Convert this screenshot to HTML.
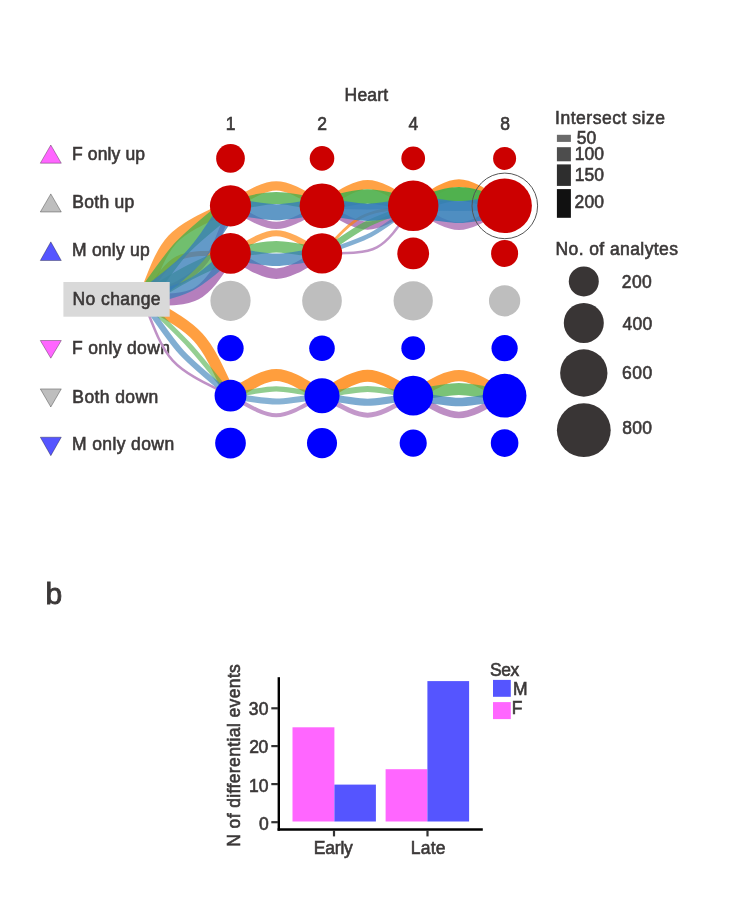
<!DOCTYPE html><html><head><meta charset="utf-8"><style>html,body{margin:0;padding:0;background:#fff;}svg{display:block;will-change:transform;}text{font-family:"Liberation Sans",sans-serif;}</style></head><body>
<svg width="746" height="900" viewBox="0 0 746 900">
<rect width="746" height="900" fill="#fff"/>
<polygon points="50.8,145 61.3,163.2 40.3,163.2" fill="#ff66ff" stroke="#000" stroke-opacity="0.45" stroke-width="0.7"/>
<polygon points="50.8,193.9 61.3,212 40.3,212" fill="#bebebe" stroke="#000" stroke-opacity="0.45" stroke-width="0.7"/>
<polygon points="50.8,241.85 61.3,260.5 40.3,260.5" fill="#5555ff" stroke="#000" stroke-opacity="0.45" stroke-width="0.7"/>
<polygon points="40.3,340.5 61.3,340.5 50.8,358.2" fill="#ff66ff" stroke="#000" stroke-opacity="0.45" stroke-width="0.7"/>
<polygon points="40.3,388.9 61.3,388.9 50.8,407" fill="#bebebe" stroke="#000" stroke-opacity="0.45" stroke-width="0.7"/>
<polygon points="40.3,437.2 61.3,437.2 50.8,455.7" fill="#5555ff" stroke="#000" stroke-opacity="0.45" stroke-width="0.7"/>
<text x="71.97" y="160.2" font-size="17.5" letter-spacing="0.134" fill="#3b3838" stroke="#3b3838" stroke-width="0.6">F only up</text>
<text x="72.27" y="208.2" font-size="17.5" letter-spacing="0.283" fill="#3b3838" stroke="#3b3838" stroke-width="0.6">Both up</text>
<text x="71.97" y="256.2" font-size="17.5" letter-spacing="0.236" fill="#3b3838" stroke="#3b3838" stroke-width="0.6">M only up</text>
<text x="71.97" y="354.0" font-size="17.5" letter-spacing="0.36" fill="#3b3838" stroke="#3b3838" stroke-width="0.6">F only down</text>
<text x="72.37" y="402.7" font-size="17.5" letter-spacing="0.402" fill="#3b3838" stroke="#3b3838" stroke-width="0.6">Both down</text>
<text x="71.97" y="450.0" font-size="17.5" letter-spacing="0.391" fill="#3b3838" stroke="#3b3838" stroke-width="0.6">M only down</text>
<g fill="none">
<path d="M143.0,300.0C167.6,235.1 167.6,235.1 230.5,205.8" stroke="#fff" stroke-width="11" stroke-opacity="1.00"/>
<path d="M143.0,300.0C179.9,246.5 179.9,246.5 230.5,205.8" stroke="#fff" stroke-width="17" stroke-opacity="1.00"/>
<path d="M143.0,300.0C194.6,260.2 194.6,260.2 230.5,205.8" stroke="#fff" stroke-width="19" stroke-opacity="1.00"/>
<path d="M143.0,300.0C206.1,270.9 206.1,270.9 230.5,205.8" stroke="#fff" stroke-width="5" stroke-opacity="1.00"/>
<path d="M143.0,300.0C174.0,252.8 174.0,252.8 230.5,253.4" stroke="#fff" stroke-width="5" stroke-opacity="1.00"/>
<path d="M143.0,300.0C185.2,273.8 185.2,273.8 230.5,253.4" stroke="#fff" stroke-width="15" stroke-opacity="1.00"/>
<path d="M143.0,300.0C192.4,287.3 192.4,287.3 230.5,253.4" stroke="#fff" stroke-width="12" stroke-opacity="1.00"/>
<path d="M143.0,300.0C199.0,299.6 199.0,299.6 230.5,253.4" stroke="#fff" stroke-width="12" stroke-opacity="1.00"/>
<path d="M143.0,300.0C202.0,333.9 202.0,333.9 230.5,395.7" stroke="#fff" stroke-width="11.5" stroke-opacity="1.00"/>
<path d="M143.0,300.0C190.2,344.7 190.2,344.7 230.5,395.7" stroke="#fff" stroke-width="5" stroke-opacity="1.00"/>
<path d="M143.0,300.0C179.9,354.1 179.9,354.1 230.5,395.7" stroke="#fff" stroke-width="6" stroke-opacity="1.00"/>
<path d="M143.0,300.0C168.1,364.9 168.1,364.9 230.5,395.7" stroke="#fff" stroke-width="2.5" stroke-opacity="1.00"/>
<path d="M230.5,205.8C276.2,179.1 276.2,179.1 322.0,205.8" stroke="#fff" stroke-width="9.3" stroke-opacity="1.00"/>
<path d="M230.5,205.8C276.2,195.4 276.2,195.4 322.0,205.8" stroke="#fff" stroke-width="12" stroke-opacity="1.00"/>
<path d="M230.5,205.8C276.2,214.3 276.2,214.3 322.0,205.8" stroke="#fff" stroke-width="16" stroke-opacity="1.00"/>
<path d="M230.5,205.8C276.2,231.9 276.2,231.9 322.0,205.8" stroke="#fff" stroke-width="7.2" stroke-opacity="1.00"/>
<path d="M322.0,205.8C367.6,177.5 367.6,177.5 413.2,205.8" stroke="#fff" stroke-width="9.3" stroke-opacity="1.00"/>
<path d="M322.0,205.8C367.6,193.3 367.6,193.3 413.2,205.8" stroke="#fff" stroke-width="14.4" stroke-opacity="1.00"/>
<path d="M322.0,205.8C367.6,214.5 367.6,214.5 413.2,205.8" stroke="#fff" stroke-width="17.3" stroke-opacity="1.00"/>
<path d="M322.0,205.8C367.6,232.3 367.6,232.3 413.2,205.8" stroke="#fff" stroke-width="8" stroke-opacity="1.00"/>
<path d="M413.2,205.8C458.9,175.5 458.9,175.5 504.6,205.8" stroke="#fff" stroke-width="7.7" stroke-opacity="1.00"/>
<path d="M413.2,205.8C458.9,190.1 458.9,190.1 504.6,205.8" stroke="#fff" stroke-width="14" stroke-opacity="1.00"/>
<path d="M413.2,205.8C458.9,214.2 458.9,214.2 504.6,205.8" stroke="#fff" stroke-width="22" stroke-opacity="1.00"/>
<path d="M413.2,205.8C458.9,233.0 458.9,233.0 504.6,205.8" stroke="#fff" stroke-width="7.6" stroke-opacity="1.00"/>
<path d="M230.5,253.4C276.2,226.5 276.2,226.5 322.0,253.4" stroke="#fff" stroke-width="6.1" stroke-opacity="1.00"/>
<path d="M230.5,253.4C276.2,244.5 276.2,244.5 322.0,253.4" stroke="#fff" stroke-width="11.3" stroke-opacity="1.00"/>
<path d="M230.5,253.4C276.2,261.9 276.2,261.9 322.0,253.4" stroke="#fff" stroke-width="12.4" stroke-opacity="1.00"/>
<path d="M230.5,253.4C276.2,280.4 276.2,280.4 322.0,253.4" stroke="#fff" stroke-width="10.5" stroke-opacity="1.00"/>
<path d="M322.0,253.4C359.0,213.1 359.0,213.1 413.2,205.8" stroke="#fff" stroke-width="3" stroke-opacity="1.00"/>
<path d="M322.0,253.4C364.4,223.5 364.4,223.5 413.2,205.8" stroke="#fff" stroke-width="6.5" stroke-opacity="1.00"/>
<path d="M322.0,253.4C371.4,236.9 371.4,236.9 413.2,205.8" stroke="#fff" stroke-width="4.5" stroke-opacity="1.00"/>
<path d="M322.0,253.4C379.9,253.2 379.9,253.2 413.2,205.8" stroke="#fff" stroke-width="2.5" stroke-opacity="1.00"/>
<path d="M230.5,395.7C276.2,368.1 276.2,368.1 322.0,395.7" stroke="#fff" stroke-width="12.1" stroke-opacity="1.00"/>
<path d="M230.5,395.7C276.2,386.6 276.2,386.6 322.0,395.7" stroke="#fff" stroke-width="5.2" stroke-opacity="1.00"/>
<path d="M230.5,395.7C276.2,403.4 276.2,403.4 322.0,395.7" stroke="#fff" stroke-width="6.2" stroke-opacity="1.00"/>
<path d="M230.5,395.7C276.2,421.8 276.2,421.8 322.0,395.7" stroke="#fff" stroke-width="4" stroke-opacity="1.00"/>
<path d="M322.0,395.7C367.6,369.0 367.6,369.0 413.2,395.7" stroke="#fff" stroke-width="12" stroke-opacity="1.00"/>
<path d="M322.0,395.7C367.6,386.8 367.6,386.8 413.2,395.7" stroke="#fff" stroke-width="6" stroke-opacity="1.00"/>
<path d="M322.0,395.7C367.6,404.4 367.6,404.4 413.2,395.7" stroke="#fff" stroke-width="7" stroke-opacity="1.00"/>
<path d="M322.0,395.7C367.6,421.7 367.6,421.7 413.2,395.7" stroke="#fff" stroke-width="5" stroke-opacity="1.00"/>
<path d="M413.2,395.7C458.9,369.0 458.9,369.0 504.6,395.7" stroke="#fff" stroke-width="11.3" stroke-opacity="1.00"/>
<path d="M413.2,395.7C458.9,386.8 458.9,386.8 504.6,395.7" stroke="#fff" stroke-width="12" stroke-opacity="1.00"/>
<path d="M413.2,395.7C458.9,404.1 458.9,404.1 504.6,395.7" stroke="#fff" stroke-width="8.7" stroke-opacity="1.00"/>
<path d="M413.2,395.7C458.9,421.4 458.9,421.4 504.6,395.7" stroke="#fff" stroke-width="6.7" stroke-opacity="1.00"/>
<path d="M143.0,300.0C206.1,270.9 206.1,270.9 230.5,205.8" stroke="#984ea3" stroke-width="5" stroke-opacity="0.70"/>
<path d="M143.0,300.0C199.0,299.6 199.0,299.6 230.5,253.4" stroke="#984ea3" stroke-width="12" stroke-opacity="0.72"/>
<path d="M143.0,300.0C168.1,364.9 168.1,364.9 230.5,395.7" stroke="#984ea3" stroke-width="2.5" stroke-opacity="0.62"/>
<path d="M230.5,205.8C276.2,231.9 276.2,231.9 322.0,205.8" stroke="#984ea3" stroke-width="7.2" stroke-opacity="0.67"/>
<path d="M322.0,205.8C367.6,232.3 367.6,232.3 413.2,205.8" stroke="#984ea3" stroke-width="8" stroke-opacity="0.70"/>
<path d="M413.2,205.8C458.9,233.0 458.9,233.0 504.6,205.8" stroke="#984ea3" stroke-width="7.6" stroke-opacity="0.65"/>
<path d="M230.5,253.4C276.2,280.4 276.2,280.4 322.0,253.4" stroke="#984ea3" stroke-width="10.5" stroke-opacity="0.72"/>
<path d="M322.0,253.4C379.9,253.2 379.9,253.2 413.2,205.8" stroke="#984ea3" stroke-width="2.5" stroke-opacity="0.60"/>
<path d="M230.5,395.7C276.2,421.8 276.2,421.8 322.0,395.7" stroke="#984ea3" stroke-width="4" stroke-opacity="0.58"/>
<path d="M322.0,395.7C367.6,421.7 367.6,421.7 413.2,395.7" stroke="#984ea3" stroke-width="5" stroke-opacity="0.58"/>
<path d="M413.2,395.7C458.9,421.4 458.9,421.4 504.6,395.7" stroke="#984ea3" stroke-width="6.7" stroke-opacity="0.64"/>
<path d="M143.0,300.0C167.6,235.1 167.6,235.1 230.5,205.8" stroke="#ff7f00" stroke-width="11" stroke-opacity="0.70"/>
<path d="M143.0,300.0C174.0,252.8 174.0,252.8 230.5,253.4" stroke="#ff7f00" stroke-width="5" stroke-opacity="0.70"/>
<path d="M143.0,300.0C202.0,333.9 202.0,333.9 230.5,395.7" stroke="#ff7f00" stroke-width="11.5" stroke-opacity="0.75"/>
<path d="M230.5,205.8C276.2,179.1 276.2,179.1 322.0,205.8" stroke="#ff7f00" stroke-width="9.3" stroke-opacity="0.70"/>
<path d="M322.0,205.8C367.6,177.5 367.6,177.5 413.2,205.8" stroke="#ff7f00" stroke-width="9.3" stroke-opacity="0.73"/>
<path d="M413.2,205.8C458.9,175.5 458.9,175.5 504.6,205.8" stroke="#ff7f00" stroke-width="7.7" stroke-opacity="0.77"/>
<path d="M230.5,253.4C276.2,226.5 276.2,226.5 322.0,253.4" stroke="#ff7f00" stroke-width="6.1" stroke-opacity="0.66"/>
<path d="M322.0,253.4C359.0,213.1 359.0,213.1 413.2,205.8" stroke="#ff7f00" stroke-width="3" stroke-opacity="0.66"/>
<path d="M230.5,395.7C276.2,368.1 276.2,368.1 322.0,395.7" stroke="#ff7f00" stroke-width="12.1" stroke-opacity="0.76"/>
<path d="M322.0,395.7C367.6,369.0 367.6,369.0 413.2,395.7" stroke="#ff7f00" stroke-width="12" stroke-opacity="0.78"/>
<path d="M413.2,395.7C458.9,369.0 458.9,369.0 504.6,395.7" stroke="#ff7f00" stroke-width="11.3" stroke-opacity="0.75"/>
<path d="M143.0,300.0C179.9,246.5 179.9,246.5 230.5,205.8" stroke="#4daf4a" stroke-width="17" stroke-opacity="0.80"/>
<path d="M143.0,300.0C185.2,273.8 185.2,273.8 230.5,253.4" stroke="#4daf4a" stroke-width="15" stroke-opacity="0.75"/>
<path d="M143.0,300.0C190.2,344.7 190.2,344.7 230.5,395.7" stroke="#4daf4a" stroke-width="5" stroke-opacity="0.60"/>
<path d="M230.5,205.8C276.2,195.4 276.2,195.4 322.0,205.8" stroke="#4daf4a" stroke-width="12" stroke-opacity="0.80"/>
<path d="M322.0,205.8C367.6,193.3 367.6,193.3 413.2,205.8" stroke="#4daf4a" stroke-width="14.4" stroke-opacity="0.90"/>
<path d="M413.2,205.8C458.9,190.1 458.9,190.1 504.6,205.8" stroke="#4daf4a" stroke-width="14" stroke-opacity="0.98"/>
<path d="M230.5,253.4C276.2,244.5 276.2,244.5 322.0,253.4" stroke="#4daf4a" stroke-width="11.3" stroke-opacity="0.73"/>
<path d="M322.0,253.4C364.4,223.5 364.4,223.5 413.2,205.8" stroke="#4daf4a" stroke-width="6.5" stroke-opacity="0.70"/>
<path d="M230.5,395.7C276.2,386.6 276.2,386.6 322.0,395.7" stroke="#4daf4a" stroke-width="5.2" stroke-opacity="0.62"/>
<path d="M322.0,395.7C367.6,386.8 367.6,386.8 413.2,395.7" stroke="#4daf4a" stroke-width="6" stroke-opacity="0.62"/>
<path d="M413.2,395.7C458.9,386.8 458.9,386.8 504.6,395.7" stroke="#4daf4a" stroke-width="12" stroke-opacity="0.75"/>
<path d="M143.0,300.0C194.6,260.2 194.6,260.2 230.5,205.8" stroke="#377eb8" stroke-width="19" stroke-opacity="0.78"/>
<path d="M143.0,300.0C192.4,287.3 192.4,287.3 230.5,253.4" stroke="#377eb8" stroke-width="12" stroke-opacity="0.75"/>
<path d="M143.0,300.0C179.9,354.1 179.9,354.1 230.5,395.7" stroke="#377eb8" stroke-width="6" stroke-opacity="0.63"/>
<path d="M230.5,205.8C276.2,214.3 276.2,214.3 322.0,205.8" stroke="#377eb8" stroke-width="16" stroke-opacity="0.80"/>
<path d="M322.0,205.8C367.6,214.5 367.6,214.5 413.2,205.8" stroke="#377eb8" stroke-width="17.3" stroke-opacity="0.88"/>
<path d="M413.2,205.8C458.9,214.2 458.9,214.2 504.6,205.8" stroke="#377eb8" stroke-width="22" stroke-opacity="0.88"/>
<path d="M230.5,253.4C276.2,261.9 276.2,261.9 322.0,253.4" stroke="#377eb8" stroke-width="12.4" stroke-opacity="0.74"/>
<path d="M322.0,253.4C371.4,236.9 371.4,236.9 413.2,205.8" stroke="#377eb8" stroke-width="4.5" stroke-opacity="0.62"/>
<path d="M230.5,395.7C276.2,403.4 276.2,403.4 322.0,395.7" stroke="#377eb8" stroke-width="6.2" stroke-opacity="0.60"/>
<path d="M322.0,395.7C367.6,404.4 367.6,404.4 413.2,395.7" stroke="#377eb8" stroke-width="7" stroke-opacity="0.65"/>
<path d="M413.2,395.7C458.9,404.1 458.9,404.1 504.6,395.7" stroke="#377eb8" stroke-width="8.7" stroke-opacity="0.70"/>
<path d="M322.0,205.8C367.6,206.9 367.6,206.9 413.2,205.8" stroke="#377eb8" stroke-width="5.5" stroke-opacity="0.60"/>
<path d="M413.2,205.8C458.9,206.5 458.9,206.5 504.6,205.8" stroke="#377eb8" stroke-width="9.5" stroke-opacity="0.60"/>
</g>
<rect x="63.4" y="282" width="106.3" height="34.7" fill="#d9d9d9"/>
<circle cx="230.5" cy="158.4" r="14.35" fill="#cc0000"/>
<circle cx="322.0" cy="158.4" r="12.3" fill="#cc0000"/>
<circle cx="413.2" cy="158.4" r="11.85" fill="#cc0000"/>
<circle cx="504.6" cy="158.4" r="11.5" fill="#cc0000"/>
<circle cx="230.5" cy="205.8" r="20.6" fill="#cc0000"/>
<circle cx="322.0" cy="205.8" r="22.4" fill="#cc0000"/>
<circle cx="413.2" cy="205.8" r="25.25" fill="#cc0000"/>
<circle cx="504.6" cy="205.8" r="27.3" fill="#cc0000"/>
<circle cx="230.5" cy="253.4" r="20.35" fill="#cc0000"/>
<circle cx="322.0" cy="253.4" r="20.15" fill="#cc0000"/>
<circle cx="413.2" cy="253.4" r="15.9" fill="#cc0000"/>
<circle cx="504.6" cy="253.4" r="13.5" fill="#cc0000"/>
<circle cx="230.5" cy="300.8" r="20.1" fill="#bebebe"/>
<circle cx="322.0" cy="300.8" r="19.85" fill="#bebebe"/>
<circle cx="413.2" cy="300.8" r="19.65" fill="#bebebe"/>
<circle cx="504.6" cy="300.8" r="15.65" fill="#bebebe"/>
<circle cx="230.5" cy="348.2" r="13.15" fill="#0000ff"/>
<circle cx="322.0" cy="348.2" r="12.8" fill="#0000ff"/>
<circle cx="413.2" cy="348.2" r="11.85" fill="#0000ff"/>
<circle cx="504.6" cy="348.2" r="13.1" fill="#0000ff"/>
<circle cx="230.5" cy="395.7" r="15.9" fill="#0000ff"/>
<circle cx="322.0" cy="395.7" r="17.55" fill="#0000ff"/>
<circle cx="413.2" cy="395.7" r="19.9" fill="#0000ff"/>
<circle cx="504.6" cy="395.7" r="21.85" fill="#0000ff"/>
<circle cx="230.5" cy="443.1" r="15.35" fill="#0000ff"/>
<circle cx="322.0" cy="443.1" r="15.05" fill="#0000ff"/>
<circle cx="413.2" cy="443.1" r="13.55" fill="#0000ff"/>
<circle cx="504.6" cy="443.1" r="13.8" fill="#0000ff"/>
<circle cx="504.8" cy="205.9" r="32.8" fill="none" stroke="#555" stroke-width="1"/>
<rect x="556.9" y="134.8" width="14" height="7.1" fill="#6a6a6a"/>
<rect x="556.9" y="147.2" width="14" height="14.1" fill="#4d4d4d"/>
<rect x="556.9" y="164.4" width="14" height="21.5" fill="#2e2e2e"/>
<rect x="556.9" y="189.1" width="14" height="28.7" fill="#111111"/>
<circle cx="583.8" cy="281.4" r="15" fill="#393535"/>
<circle cx="583.8" cy="322.9" r="20" fill="#393535"/>
<circle cx="583.8" cy="373" r="23.65" fill="#393535"/>
<circle cx="583.8" cy="430.2" r="26.9" fill="#393535"/>
<rect x="292.5" y="727.3" width="41.9" height="94.2" fill="#ff66ff"/>
<rect x="334.4" y="784.6" width="41.5" height="36.9" fill="#5555ff"/>
<rect x="385.6" y="769.2" width="41.8" height="52.3" fill="#ff66ff"/>
<rect x="427.4" y="681.1" width="41.7" height="140.4" fill="#5555ff"/>
<line x1="278.8" y1="677.2" x2="278.8" y2="830.7" stroke="#000" stroke-width="2.4"/>
<line x1="277.6" y1="829.5" x2="482.8" y2="829.5" stroke="#000" stroke-width="2.4"/>
<line x1="271.3" y1="708.3" x2="278" y2="708.3" stroke="#333" stroke-width="2.2"/>
<line x1="271.3" y1="746.1" x2="278" y2="746.1" stroke="#333" stroke-width="2.2"/>
<line x1="271.3" y1="784.1" x2="278" y2="784.1" stroke="#333" stroke-width="2.2"/>
<line x1="271.3" y1="822.2" x2="278" y2="822.2" stroke="#333" stroke-width="2.2"/>
<line x1="334.0" y1="830" x2="334.0" y2="836.4" stroke="#333" stroke-width="2.2"/>
<line x1="427.5" y1="830" x2="427.5" y2="836.4" stroke="#333" stroke-width="2.2"/>
<text x="0" y="0" font-size="17.5" text-anchor="middle" font-weight="normal" fill="#3b3838" stroke="#3b3838" stroke-width="0.6" letter-spacing="0.38" transform="translate(240.3,755.2) rotate(-90)">N of differential events</text>
<rect x="493" y="679.9" width="17.8" height="16.9" fill="#5555ff"/>
<rect x="493" y="702.1" width="17.8" height="17" fill="#ff66ff"/>
<text x="72.47" y="305.4" font-size="17.5" letter-spacing="0.434" fill="#3b3838" stroke="#3b3838" stroke-width="0.6">No change</text>
<text x="344.57" y="101.4" font-size="17.5" letter-spacing="0.215" fill="#3b3838" stroke="#3b3838" stroke-width="0.6">Heart</text>
<text x="225.72" y="129.9" font-size="17.5" letter-spacing="0.0" fill="#3b3838" stroke="#3b3838" stroke-width="0.6">1</text>
<text x="317.25" y="129.9" font-size="17.5" letter-spacing="0.0" fill="#3b3838" stroke="#3b3838" stroke-width="0.6">2</text>
<text x="408.62" y="129.9" font-size="17.5" letter-spacing="0.0" fill="#3b3838" stroke="#3b3838" stroke-width="0.6">4</text>
<text x="500.19" y="130.0" font-size="17.5" letter-spacing="0.0" fill="#3b3838" stroke="#3b3838" stroke-width="0.6">8</text>
<text x="555.09" y="124.0" font-size="17.5" letter-spacing="0.519" fill="#3b3838" stroke="#3b3838" stroke-width="0.6">Intersect size</text>
<text x="576.81" y="143.6" font-size="17.5" letter-spacing="0.039" fill="#3b3838" stroke="#3b3838" stroke-width="0.6">50</text>
<text x="574.71" y="159.9" font-size="17.5" letter-spacing="0.09" fill="#3b3838" stroke="#3b3838" stroke-width="0.6">100</text>
<text x="574.71" y="180.6" font-size="17.5" letter-spacing="0.09" fill="#3b3838" stroke="#3b3838" stroke-width="0.6">150</text>
<text x="574.61" y="207.5" font-size="17.5" letter-spacing="0.127" fill="#3b3838" stroke="#3b3838" stroke-width="0.6">200</text>
<text x="555.47" y="254.55" font-size="17.5" letter-spacing="0.411" fill="#3b3838" stroke="#3b3838" stroke-width="0.6">No. of analytes</text>
<text x="621.71" y="287.7" font-size="17.5" letter-spacing="0.452" fill="#3b3838" stroke="#3b3838" stroke-width="0.6">200</text>
<text x="622.46" y="330.2" font-size="17.5" letter-spacing="0.254" fill="#3b3838" stroke="#3b3838" stroke-width="0.6">400</text>
<text x="622.05" y="378.7" font-size="17.5" letter-spacing="0.443" fill="#3b3838" stroke="#3b3838" stroke-width="0.6">600</text>
<text x="622.18" y="434.0" font-size="17.5" letter-spacing="0.316" fill="#3b3838" stroke="#3b3838" stroke-width="0.6">800</text>
<text x="45.62" y="604.0" font-size="30" letter-spacing="0.0" fill="#3b3838" stroke="#3b3838" stroke-width="0.9">b</text>
<text x="490.02" y="675.7" font-size="17.5" letter-spacing="-0.44" fill="#3b3838" stroke="#3b3838" stroke-width="0.6">Sex</text>
<text x="512.97" y="695.2" font-size="17.5" letter-spacing="0.0" fill="#3b3838" stroke="#3b3838" stroke-width="0.6">M</text>
<text x="511.79" y="714.1" font-size="17.5" letter-spacing="0.0" fill="#3b3838" stroke="#3b3838" stroke-width="0.6">F</text>
<text x="248.78" y="714.5" font-size="17.5" letter-spacing="0.146" fill="#3b3838" stroke="#3b3838" stroke-width="0.6">30</text>
<text x="249.21" y="753.2" font-size="17.5" letter-spacing="-0.346" fill="#3b3838" stroke="#3b3838" stroke-width="0.6">20</text>
<text x="248.91" y="791.9" font-size="17.5" letter-spacing="0.03" fill="#3b3838" stroke="#3b3838" stroke-width="0.6">10</text>
<text x="259.05" y="829.9" font-size="17.5" letter-spacing="0.0" fill="#3b3838" stroke="#3b3838" stroke-width="0.6">0</text>
<text x="313.87" y="853.9" font-size="17.5" letter-spacing="-0.221" fill="#3b3838" stroke="#3b3838" stroke-width="0.6">Early</text>
<text x="410.63" y="853.9" font-size="17.5" letter-spacing="0.298" fill="#3b3838" stroke="#3b3838" stroke-width="0.6">Late</text>
</svg></body></html>
